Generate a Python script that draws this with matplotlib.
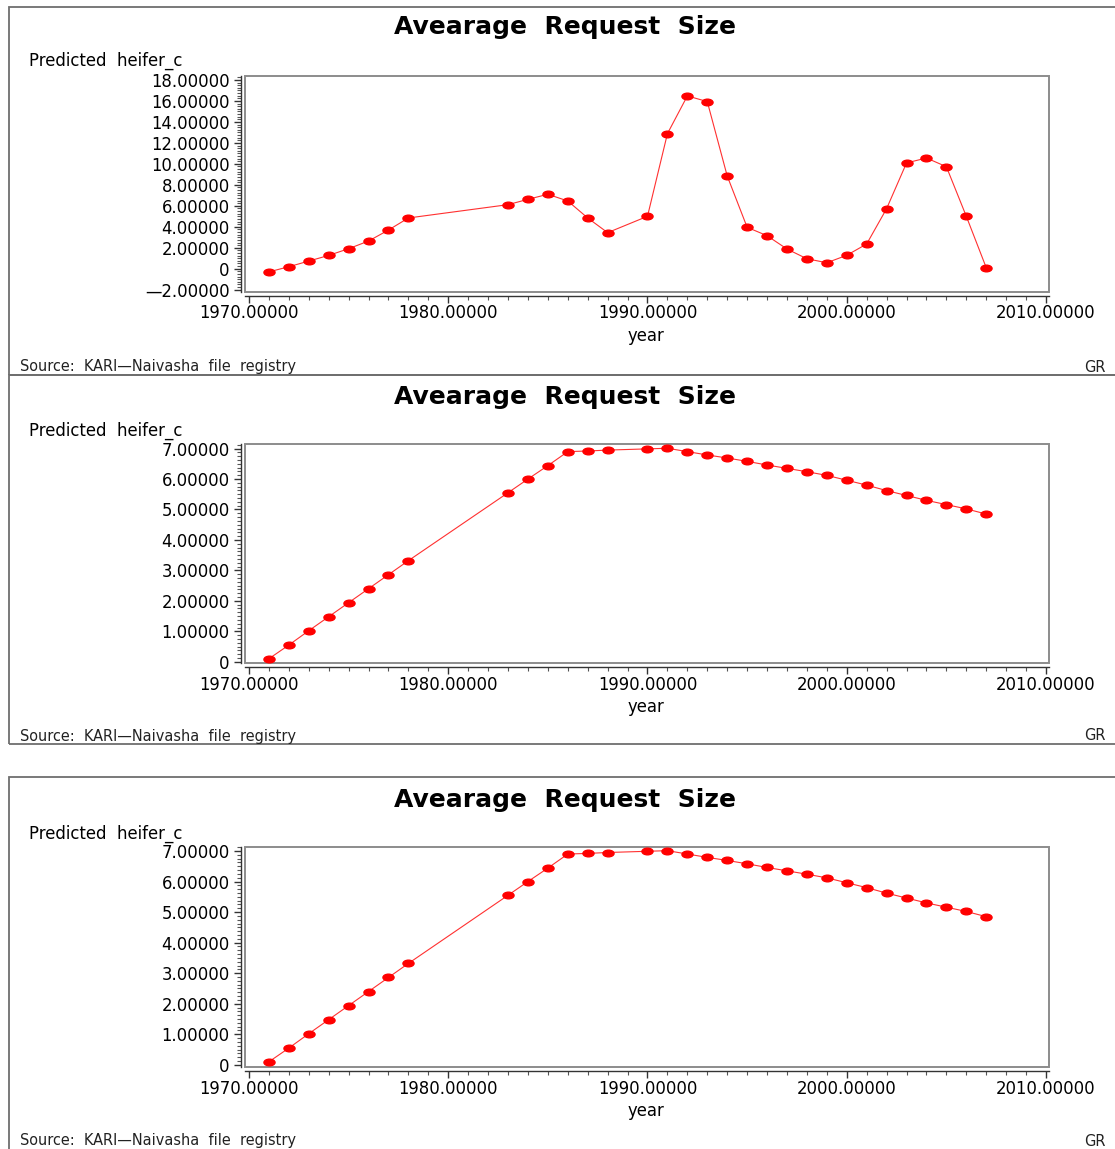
import matplotlib
matplotlib.use('Agg')
import matplotlib.pyplot as plt
from matplotlib.path import Path
from matplotlib.patches import Rectangle
from matplotlib.ticker import MultipleLocator, AutoMinorLocator, FuncFormatter
from matplotlib.transforms import Affine2D

plt.rcParams['font.family'] = ['DejaVu Sans']

# years with records (no data for 1979-1982 and 1989)
years = [1971, 1972, 1973, 1974, 1975, 1976, 1977, 1978,
         1983, 1984, 1985, 1986, 1987, 1988,
         1990, 1991, 1992, 1993, 1994, 1995, 1996, 1997, 1998, 1999,
         2000, 2001, 2002, 2003, 2004, 2005, 2006, 2007]

# predicted heifer count, loess-style fit
heifer_fit = [-0.30, 0.19, 0.73, 1.27, 1.91, 2.64, 3.69, 4.84,
              6.11, 6.62, 7.10, 6.46, 4.84, 3.44,
              5.00, 12.88, 16.48, 15.94, 8.85, 3.95, 3.15, 1.88, 0.95, 0.57,
              1.28, 2.36, 5.73, 10.09, 10.56, 9.73, 5.00, 0.10]

# predicted heifer count, smooth trend
heifer_trend = [0.10, 0.55, 1.02, 1.48, 1.94, 2.40, 2.86, 3.32,
                5.55, 6.00, 6.44, 6.90, 6.92, 6.95,
                6.99, 7.01, 6.90, 6.79, 6.69, 6.58, 6.46, 6.35, 6.24, 6.12,
                5.96, 5.80, 5.62, 5.46, 5.30, 5.16, 5.02, 4.85]

x_ticks = [1970, 1980, 1990, 2000, 2010]
title = 'Avearage  Request  Size'
y_title = 'Predicted  heifer_c'
x_title = 'year'
source = 'Source:  KARI\u2014Naivasha  file  registry'
graph_tag = 'GR'

W, H = 1115, 1149
fig = plt.figure(figsize=(W / 100, H / 100), dpi=100)


def fx(x):
    return x / W


def fy(y):
    return 1 - y / H


def pt(px):
    return px * 72 / 100


# squashed dot marker
oval = Path.unit_circle().transformed(Affine2D().scale(1.0, 0.6))


def fmt(v, pos):
    if abs(v) < 1e-9:
        return '0'
    if v < 0:
        return '\u2014%.5f' % abs(v)
    return '%.5f' % v


panels = [
    # box top/bottom, frame top/bottom, ylim, major step, data, y offset of texts
    dict(box=(7, 375), frame=(76, 292), ylim=(-2.22, 18.38), step=2, data=heifer_fit, dy=0),
    dict(box=(375, 744), frame=(444, 663), ylim=(-0.04, 7.15), step=1, data=heifer_trend, dy=370),
    dict(box=(777, 1160), frame=(847, 1067), ylim=(-0.07, 7.13), step=1, data=heifer_trend, dy=773),
]

left, right = 245, 1049

for p in panels:
    bt, bb = p['box']
    fig.add_artist(Rectangle((fx(9), fy(bb)), fx(1200), fy(bt) - fy(bb),
                             transform=fig.transFigure, fill=False,
                             edgecolor='#6e6e6e', linewidth=1.3))

    ft, fb = p['frame']
    ax = fig.add_axes([fx(left), fy(fb), fx(right - left), fy(ft) - fy(fb)])
    ax.plot(years, p['data'], color='#ff3030', linewidth=0.8,
            marker=oval, markersize=8, markerfacecolor='#ff0000',
            markeredgecolor='#ff0000', clip_on=False)
    ax.set_xlim(1969.8, 2010.15)
    ax.set_ylim(*p['ylim'])

    for s in ['top', 'right']:
        ax.spines[s].set_visible(False)
    for s in ['left', 'bottom']:
        ax.spines[s].set_position(('outward', 3))
        ax.spines[s].set_color('#333333')
        ax.spines[s].set_linewidth(1.0)
    ax.add_patch(Rectangle((0, 0), 1, 1, transform=ax.transAxes, fill=False,
                           edgecolor='#8c8c8c', linewidth=1.4, clip_on=False))

    ax.set_xticks(x_ticks)
    ax.xaxis.set_minor_locator(MultipleLocator(1))
    ax.xaxis.set_major_formatter(FuncFormatter(lambda v, pos: '%.5f' % v))
    ax.yaxis.set_major_locator(MultipleLocator(p['step']))
    ax.yaxis.set_minor_locator(AutoMinorLocator(8))
    ax.yaxis.set_major_formatter(FuncFormatter(fmt))
    ax.tick_params(axis='both', which='major', length=5, width=1.0,
                   color='#333333', labelsize=pt(16.5), pad=3)
    ax.tick_params(axis='both', which='minor', length=3, width=0.8, color='#555555')
    ax.tick_params(axis='x', which='major', pad=1)

    dy = p['dy']
    fig.text(fx(565), fy(27 + dy), title, ha='center', va='center',
             fontsize=pt(25), fontweight='bold')
    fig.text(fx(29), fy(61 + dy), y_title, ha='left', va='center', fontsize=pt(16.5))
    fig.text(fx(646), fy(fb + 44), x_title, ha='center', va='center', fontsize=pt(16.5))
    fig.text(fx(20), fy(min(bb, H) - 8), source, ha='left', va='center',
             fontsize=pt(14.5), color='#222222')
    fig.text(fx(1084), fy(min(bb, H) - 8), graph_tag, ha='left', va='center',
             fontsize=pt(14.5), color='#222222')

fig.savefig('out.png', dpi=100)
